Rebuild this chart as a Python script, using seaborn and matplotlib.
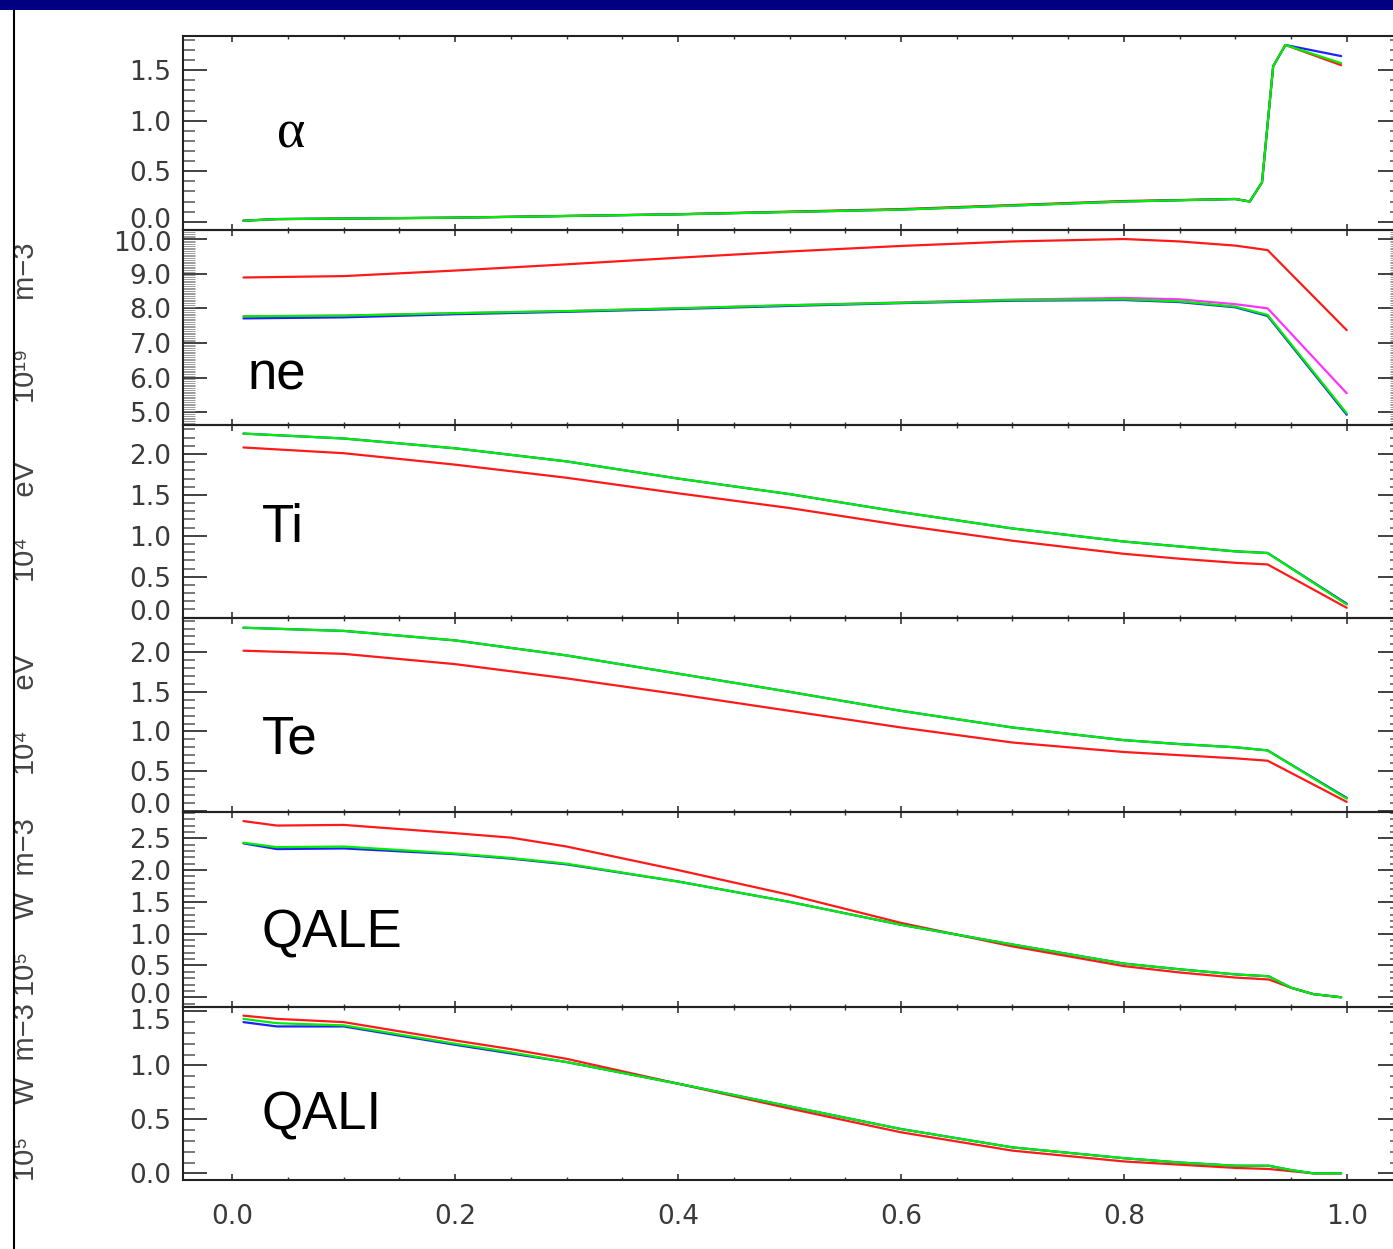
import numpy as np
import pandas as pd
import matplotlib
matplotlib.use("Agg")
import matplotlib.pyplot as plt
import seaborn as sns
from matplotlib.ticker import MultipleLocator, FormatStrFormatter
from matplotlib.patches import Rectangle
from matplotlib.lines import Line2D
from matplotlib.transforms import ScaledTranslation

# ---------------- data ----------------
alpha_rho = [0.01, 0.04, 0.2, 0.4, 0.6, 0.8, 0.9, 0.913, 0.924, 0.934, 0.945, 0.995]
alpha_red = [0.01, 0.026, 0.04, 0.075, 0.125, 0.205, 0.225, 0.20, 0.39, 1.54, 1.75, 1.55]
alpha_blue = [0.01, 0.026, 0.04, 0.073, 0.12, 0.20, 0.225, 0.20, 0.39, 1.54, 1.75, 1.64]
alpha_green = [0.01, 0.026, 0.04, 0.073, 0.12, 0.20, 0.225, 0.20, 0.39, 1.54, 1.75, 1.57]

ne_rho = [0.01, 0.1, 0.2, 0.3, 0.4, 0.5, 0.6, 0.7, 0.8, 0.85, 0.9, 0.929, 1.0]
ne_red = [8.89, 8.93, 9.09, 9.27, 9.46, 9.64, 9.80, 9.93, 10.0, 9.93, 9.81, 9.68, 7.37]
ne_magenta = [7.77, 7.79, 7.86, 7.92, 8.00, 8.09, 8.17, 8.25, 8.30, 8.26, 8.12, 8.00, 5.55]
ne_blue = [7.71, 7.74, 7.83, 7.90, 7.98, 8.07, 8.15, 8.22, 8.24, 8.18, 8.03, 7.78, 4.93]
ne_green = [7.77, 7.79, 7.86, 7.92, 8.00, 8.09, 8.16, 8.24, 8.26, 8.20, 8.05, 7.81, 4.97]

t_rho = [0.01, 0.1, 0.2, 0.3, 0.4, 0.5, 0.6, 0.7, 0.8, 0.85, 0.9, 0.929, 1.0]
ti_red = [2.08, 2.01, 1.87, 1.71, 1.52, 1.34, 1.13, 0.94, 0.78, 0.72, 0.67, 0.65, 0.12]
ti_blue = [2.25, 2.19, 2.07, 1.91, 1.70, 1.51, 1.29, 1.09, 0.93, 0.87, 0.81, 0.79, 0.17]
ti_green = [2.25, 2.19, 2.07, 1.91, 1.70, 1.51, 1.29, 1.09, 0.93, 0.87, 0.81, 0.79, 0.16]

te_red = [2.02, 1.98, 1.85, 1.67, 1.47, 1.26, 1.05, 0.86, 0.74, 0.70, 0.66, 0.63, 0.11]
te_blue = [2.31, 2.27, 2.15, 1.96, 1.73, 1.50, 1.26, 1.05, 0.89, 0.84, 0.80, 0.76, 0.16]
te_green = [2.31, 2.27, 2.15, 1.96, 1.73, 1.50, 1.26, 1.05, 0.89, 0.84, 0.80, 0.76, 0.15]

q_rho = [0.01, 0.04, 0.1, 0.2, 0.25, 0.3, 0.4, 0.5, 0.6, 0.7, 0.8, 0.85, 0.9, 0.93, 0.95, 0.97, 0.995]
qale_red = [2.77, 2.70, 2.71, 2.58, 2.51, 2.37, 2.00, 1.61, 1.17, 0.80, 0.49, 0.39, 0.31, 0.28, 0.15, 0.05, 0.0]
qale_blue = [2.42, 2.33, 2.34, 2.25, 2.18, 2.09, 1.82, 1.50, 1.14, 0.83, 0.53, 0.44, 0.36, 0.33, 0.15, 0.05, 0.0]
qale_green = [2.43, 2.36, 2.37, 2.26, 2.19, 2.10, 1.82, 1.50, 1.14, 0.83, 0.53, 0.44, 0.36, 0.33, 0.15, 0.05, 0.0]

qali_red = [1.46, 1.43, 1.40, 1.23, 1.15, 1.06, 0.83, 0.60, 0.38, 0.21, 0.11, 0.08, 0.05, 0.04, 0.02, 0.0, 0.0]
qali_blue = [1.40, 1.36, 1.36, 1.19, 1.11, 1.03, 0.83, 0.62, 0.41, 0.24, 0.14, 0.10, 0.07, 0.07, 0.03, 0.0, 0.0]
qali_green = [1.43, 1.39, 1.37, 1.20, 1.12, 1.03, 0.83, 0.62, 0.41, 0.24, 0.14, 0.10, 0.07, 0.07, 0.03, 0.0, 0.0]

panel_names = ["α", "ne", "Ti", "Te", "QALE", "QALI"]
unit_labels = [None, "10¹⁹      m−3", "10⁴     eV", "10⁴     eV",
               "10⁵    W  m−3", "10⁵    W  m−3"]
x_tick_values = [0.0, 0.2, 0.4, 0.6, 0.8, 1.0]

# ---------------- layout / style ----------------
W, H, DPI = 1393, 1249, 100
sns.set_style("white")
plt.rcParams["font.family"] = ["DejaVu Sans"]

fig = plt.figure(figsize=(W / DPI, H / DPI), dpi=DPI)
fig.patch.set_facecolor("white")

def fx(px):
    return px / W

def fy(py):
    return 1 - py / H

edges = [36, 230, 425, 618, 812, 1007, 1180]
left_px, right_px = 182.7, 1402.0

colors = {"red": "#ff1a1a", "magenta": "#ff33ff", "blue": "#2020ff", "green": "#00ee00"}

panels = [
    dict(rho=alpha_rho, series={"red": alpha_red, "blue": alpha_blue, "green": alpha_green},
         ylim=(-0.082, 1.839), major=0.5, minor=0.1, shift={"0.0": 4}),
    dict(rho=ne_rho, series={"red": ne_red, "magenta": ne_magenta, "blue": ne_blue, "green": ne_green},
         ylim=(4.634, 10.26), major=1.0, minor=0.05, shift={"10.0": -2}),
    dict(rho=t_rho, series={"red": ti_red, "blue": ti_blue, "green": ti_green},
         ylim=(-0.005, 2.355), major=0.5, minor=0.1, shift={"0.0": 8}),
    dict(rho=t_rho, series={"red": te_red, "blue": te_blue, "green": te_green},
         ylim=(-0.018, 2.433), major=0.5, minor=0.1, shift={"0.0": 8}),
    dict(rho=q_rho, series={"red": qale_red, "blue": qale_blue, "green": qale_green},
         ylim=(-0.153, 2.913), major=0.5, minor=0.1, shift={"0.0": 4}),
    dict(rho=q_rho, series={"red": qali_red, "blue": qali_blue, "green": qali_green},
         ylim=(-0.062, 1.54), major=0.5, minor=0.1, shift={"1.5": -8}),
]

tick_col = "#333333"
label_col = "#3a3a3a"
axes = []

for i, p in enumerate(panels):
    top, bot = edges[i], edges[i + 1]
    ax = fig.add_axes([fx(left_px), fy(bot), (right_px - left_px) / W, (bot - top) / H])
    axes.append(ax)
    frames = []
    order = [k for k in ["red", "magenta", "blue", "green"] if k in p["series"]]
    for k in order:
        frames.append(pd.DataFrame({"rho": p["rho"], "value": p["series"][k], "run": k}))
    df = pd.concat(frames, ignore_index=True)
    sns.lineplot(data=df, x="rho", y="value", hue="run", hue_order=order,
                 palette=colors, estimator=None, sort=False, lw=1.6,
                 legend=False, ax=ax)
    ax.set_xlim(-0.0445, 1.0496)
    ax.set_ylim(*p["ylim"])
    ax.set_xlabel("")
    ax.set_ylabel("")
    ax.grid(False)
    ax.set_facecolor("none")
    for s in ax.spines.values():
        s.set_visible(True)
        s.set_color("#222222")
        s.set_linewidth(1.5)

    ax.xaxis.set_major_locator(MultipleLocator(0.2))
    ax.xaxis.set_minor_locator(MultipleLocator(0.05))
    ax.yaxis.set_major_locator(MultipleLocator(p["major"]))
    ax.yaxis.set_minor_locator(MultipleLocator(p["minor"]))
    ax.yaxis.set_major_formatter(FormatStrFormatter("%.1f"))
    ax.xaxis.set_major_formatter(FormatStrFormatter("%.1f"))

    ax.tick_params(axis="x", which="major", direction="in", length=4, width=1.2,
                   top=True, bottom=True, color=tick_col, labelsize=19,
                   labelcolor=label_col, pad=17)
    ax.tick_params(axis="x", which="minor", direction="in", length=2.5, width=1.0,
                   top=True, bottom=True, color=tick_col)
    ax.tick_params(axis="y", which="major", direction="in", length=17, width=1.3,
                   left=True, right=True, color=tick_col, labelsize=19,
                   labelcolor=label_col, pad=8)
    if p["minor"] < 0.1:
        ax.tick_params(axis="y", which="minor", direction="in", length=8.5, width=0.6,
                       left=True, right=True, color="#8a8a8a")
    else:
        ax.tick_params(axis="y", which="minor", direction="in", length=8.5, width=1.1,
                       left=True, right=True, color="#555555")
    if i < len(panels) - 1:
        ax.tick_params(axis="x", labelbottom=False)
    else:
        ax.set_xticks(x_tick_values)

# nudge a few edge tick labels as in the reference (IDL keeps them inside)
fig.canvas.draw()
for ax, p in zip(axes, panels):
    for t in ax.yaxis.get_major_ticks():
        txt = t.label1.get_text()
        if txt in p["shift"]:
            dy = p["shift"][txt] / DPI
            t.label1.set_transform(t.label1.get_transform()
                                   + ScaledTranslation(0, dy, fig.dpi_scale_trans))

# ---------------- panel names ----------------
name_pos = [(277, 148), (248, 390), (262, 542), (262, 753), (262, 947), (262, 1130)]
for name, (px, py) in zip(panel_names, name_pos):
    if name == "α":
        fig.text(fx(px), fy(py), name, fontsize=39, family=["Liberation Serif", "DejaVu Serif"],
                 ha="left", va="baseline", color="black")
    else:
        fig.text(fx(px), fy(py), name, fontsize=38, family=["Liberation Sans", "DejaVu Sans"],
                 ha="left", va="baseline", color="black")

# ---------------- rotated unit labels (partly hidden behind slide edge) ----------------
label_cy = [None, 323, 521, 715, 907, 1092]
for lab, cy in zip(unit_labels, label_cy):
    if lab is None:
        continue
    fig.text(fx(26), fy(cy), lab, rotation=90, ha="center", va="center", fontsize=21,
             family=["Liberation Sans", "DejaVu Sans"], color="#444444", zorder=3)

# slide decorations
fig.add_artist(Rectangle((0, 0), 14 / W, 1, transform=fig.transFigure,
                         facecolor="white", edgecolor="none", zorder=5))
fig.add_artist(Line2D([14 / W, 14 / W], [0, fy(9)], transform=fig.transFigure,
                      color="black", lw=1.5, zorder=6))
fig.add_artist(Rectangle((0, fy(9.7)), 1, 9.7 / H, transform=fig.transFigure,
                         facecolor="#000080", edgecolor="none", zorder=7))

fig.savefig("out.png", dpi=DPI)
